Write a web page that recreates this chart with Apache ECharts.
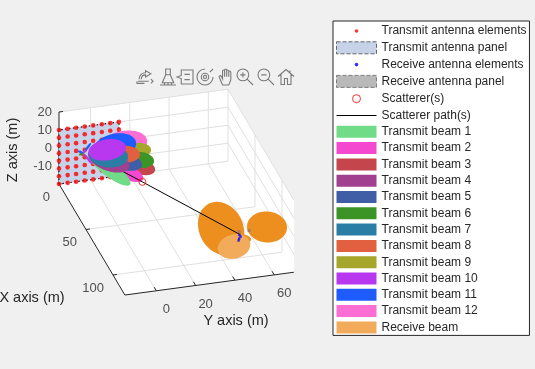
<!DOCTYPE html>
<html><head><meta charset="utf-8">
<script src="https://cdn.jsdelivr.net/npm/echarts@6/dist/echarts.min.js"></script>
<style>html,body{margin:0;padding:0;background:#f0f0f0}#c{width:535px;height:369px}</style>
</head><body><div id="c"></div>
<script>
// ---- axis limits and ticks (metres)
const xLim = [0, 122];
const yLim = [-16, 70];
const zLim = [-20, 20];
const xTicks = [0, 50, 100];
const yTicks = [0, 20, 40, 60];
const zTicks = [-10, 0, 10, 20];

// ---- transmit panel (on plane X = 0)
const txElemY = [-16, -11.6, -7.3, -2.9, 1.4, 5.8, 10.1, 14.5];
const txElemZ = [-20, -15.7, -11.4, -7.1, -2.9, 1.4, 5.7, 10];
const txCentre = [0, -1, -5];

// ---- transmit beams, index 0 = beam 1
const beamNames = ['Transmit beam 1','Transmit beam 2','Transmit beam 3','Transmit beam 4','Transmit beam 5','Transmit beam 6','Transmit beam 7','Transmit beam 8','Transmit beam 9','Transmit beam 10','Transmit beam 11','Transmit beam 12'];
const beamColors = ['#70dc88','#f548d0','#c5454d','#a0408e','#405ea6','#3d9426','#2a7ea6','#e25f40','#a6a62a','#b838f0','#1f5cff','#fd6ed5'];
const beamTipX = 10;
const beamTipY = [17.4, 24, 30.1, 16.9, 23.5, 29.6, 16.4, 22.5, 28.1, 15.3, 20.4, 26];
const beamTipZ = [-20.2, -18.4, -14.3, -10.7, -10.6, -9.3, -5.1, -4.3, -2.4, 1.2, 3.2, 3.5];
const beamWidth = [7.5, 8, 7.5, 10.5, 8.5, 8, 12, 8.5, 7.5, 10.5, 13, 14];
const beamStartFrac = [0, 0.25, 0.6, 0, 0.35, 0.6, 0, 0.4, 0.6, 0, 0.1, 0.15];
const drawOrder = [11, 8, 2, 5, 10, 1, 0, 4, 7];       // behind the path
const drawOrderFront = [3, 6, 9];                       // in front of the path
// side lobes: beam index, tip Y, tip Z
const sideBeam = [10, 5, 2, 9, 10, 9];
const sideTipY = [-6.3, -5.8, -4.3, -2.3, 0.3, 0.8];
const sideTipZ = [-3.1, -5.4, -6.2, -3.1, 0.4, -11.4];

// ---- receiver
const rxX = 83;
const rxElemY = [53.6, 52.9, 52.6, 53.0];
const rxElemZ = [-17.5, -18.5, -19.5, -16.5];
const rxPanelY = [52.8, 57.9];
const rxPanelZ = [-14.6, -14.8];
const rxLobeStartY = [49.8, 56.9, 53.3, 53.3, 42.1];
const rxLobeStartZ = [-26.3, -11.8, -16.3, -16.3, -23.6];
const rxLobeTipY = [37.6, 77.2, 54.8, 58.9, 58.4];
const rxLobeTipZ = [3.2, -16.5, -23.8, -20.4, -21.5];
const rxLobeWidth = [22, 15.5, 2.6, 2.6, 12];

// ---- scatterer and path
const scattererPos = [[30, 18.2, -8.7]];
const pathX = [0, 30, 83];
const pathY = [-1, 18.2, 53.3];
const pathZ = [-5, -8.7, -16.3];

// ---- legend
const legendNames = ['Transmit antenna elements','Transmit antenna panel','Receive antenna elements','Receive antenna panel','Scatterer(s)','Scatterer path(s)'].concat(beamNames, ['Receive beam']);

// ---- projection of world metres onto the page's hidden value axes
function proj(X, Y, Z) {
  return [59 + 0.54 * X + 1.965 * (Y - yLim[0]),
          184 + 0.91 * X - 0.265 * (Y - yLim[0]) - 1.8 * (Z - zLim[0])];
}
const F = 'Liberation Sans';
const textCol = '#262626';

function segSeries(segs, color, width, z) {
  return {
    type: 'custom', coordinateSystem: 'cartesian2d', silent: true, z: z, clip: false,
    data: segs.map(s => [s[0][0], s[0][1], s[1][0], s[1][1]]),
    renderItem: (p, api) => {
      const a = api.coord([api.value(0), api.value(1)]), b = api.coord([api.value(2), api.value(3)]);
      return {type: 'line', shape: {x1: a[0], y1: a[1], x2: b[0], y2: b[1]}, style: {stroke: color, lineWidth: width}};
    }
  };
}
function polySeries(name, polys, style, z) {
  return {
    name, type: 'custom', coordinateSystem: 'cartesian2d', silent: true, z, clip: false,
    data: polys.map(p => p.flat()),
    renderItem: (p, api) => {
      const pts = [];
      for (let i = 0; i < polys[p.dataIndex].length; i++) pts.push(api.coord([api.value(2 * i), api.value(2 * i + 1)]));
      return {type: 'polygon', shape: {points: pts}, style};
    }
  };
}
// a lobe: start point, tip, maximum full width (metres), taper: 1 = plain ellipse, lower = narrower start
function lobeSeries(name, lobes, color, z) {
  return {
    name, type: 'custom', coordinateSystem: 'cartesian2d', silent: true, z, clip: false,
    data: lobes,
    renderItem: (p, api) => {
      const a = api.coord([api.value(0), api.value(1)]), b = api.coord([api.value(2), api.value(3)]);
      const w = api.value(4) * 2, k = api.value(5);
      const dx = b[0] - a[0], dy = b[1] - a[1], L = Math.hypot(dx, dy), nx = -dy / L, ny = dx / L;
      const raw = [];
      let peak = 0;
      for (let i = 0; i <= 48; i++) {
        const t = Math.PI * i / 48, s = (1 - Math.cos(t)) / 2;
        const h = Math.sin(t) * (k + (1 - k) * s);
        raw.push([s, h]);
        peak = Math.max(peak, h);
      }
      const left = [], right = [];
      raw.forEach(r => {
        const h = r[1] / peak * w / 2;
        left.push([a[0] + dx * r[0] + nx * h, a[1] + dy * r[0] + ny * h]);
        right.unshift([a[0] + dx * r[0] - nx * h, a[1] + dy * r[0] - ny * h]);
      });
      return {type: 'polygon', shape: {points: left.concat(right)}, style: {fill: color}};
    }
  };
}
function labelSeries(items, align, offset, rotate) {
  return {
    type: 'scatter', silent: true, symbolSize: 0, z: 20, clip: false,
    data: items.map(t => [t[0][0], t[0][1], String(t[1])]),
    label: {show: true, position: 'inside', offset, align, verticalAlign: 'middle', rotate: rotate || 0,
      fontFamily: F, fontSize: 13, color: textCol, formatter: p => p.data[2]}
  };
}

// ---- axes cage
const grid = [];
const P = proj;
xTicks.forEach(x => {
  grid.push([P(x, yLim[0], zLim[0]), P(x, yLim[1], zLim[0])]);
  grid.push([P(x, yLim[1], zLim[0]), P(x, yLim[1], zLim[1])]);
});
yTicks.forEach(y => {
  grid.push([P(xLim[0], y, zLim[0]), P(xLim[1], y, zLim[0])]);
  grid.push([P(xLim[0], y, zLim[0]), P(xLim[0], y, zLim[1])]);
});
zTicks.forEach(z => {
  grid.push([P(xLim[0], yLim[0], z), P(xLim[0], yLim[1], z)]);
  grid.push([P(xLim[0], yLim[1], z), P(xLim[1], yLim[1], z)]);
});
const axes = [
  [P(xLim[0], yLim[0], zLim[0]), P(xLim[1], yLim[0], zLim[0])],
  [P(xLim[1], yLim[0], zLim[0]), P(xLim[1], yLim[1], zLim[0])],
  [P(xLim[0], yLim[0], zLim[0]), P(xLim[0], yLim[0], zLim[1])]
];
xTicks.forEach(x => axes.push([P(x, yLim[0], zLim[0]), P(x, yLim[0] + 2, zLim[0])]));
yTicks.forEach(y => axes.push([P(xLim[1], y, zLim[0]), P(xLim[1] - 4, y, zLim[0])]));
zTicks.forEach(z => axes.push([P(xLim[0], yLim[0], z), P(xLim[0], yLim[0] + 2, z)]));
const hull = [P(0, yLim[0], zLim[1]), P(0, yLim[1], zLim[1]), P(xLim[1], yLim[1], zLim[1]), P(xLim[1], yLim[1], zLim[0]), P(xLim[1], yLim[0], zLim[0]), P(0, yLim[0], zLim[0])];

// ---- tx panel, elements
const panelYmin = txElemY[0], panelYmax = txElemY[txElemY.length - 1], panelZmin = txElemZ[0], panelZmax = txElemZ[txElemZ.length - 1];
const txPanel = [P(0, panelYmin, panelZmin), P(0, panelYmin, panelZmax), P(0, panelYmax, panelZmax), P(0, panelYmax, panelZmin)];
const txPts = [];
txElemY.forEach(y => txElemZ.forEach(z => txPts.push(P(0, y, z))));

// ---- lobes
const start = P(txCentre[0], txCentre[1], txCentre[2]);
const lobesOf = b => {
  const tip = P(beamTipX, beamTipY[b], beamTipZ[b]), f = beamStartFrac[b];
  return [[start[0] + (tip[0] - start[0]) * f, start[1] + (tip[1] - start[1]) * f, tip[0], tip[1], beamWidth[b], 1]];
};
const sideOf = b => sideBeam.map((s, i) => s === b ? [start[0] - 5, start[1], ...P(0, sideTipY[i], sideTipZ[i]), 1.2, 0.6] : null).filter(Boolean);

const series = [];
series.push(polySeries('__hull', [hull], {fill: '#ffffff'}, 1));
series.push(segSeries(grid, '#e0e0e0', 1, 2));
series.push(segSeries(axes, '#262626', 1, 3));
series.push(polySeries('Transmit antenna panel', [txPanel], {fill: '#c5d2e8', stroke: '#111', lineWidth: 1.2, lineDash: [1.5, 2.5]}, 4));
series.push({name: 'Transmit antenna elements', type: 'scatter', symbol: 'circle', symbolSize: 4.6, silent: true, z: 5, clip: false, itemStyle: {color: '#ff0000'}, data: txPts});
const zBase = 6;
drawOrder.forEach((b, i) => series.push(lobeSeries(beamNames[b], lobesOf(b).concat(sideOf(b)), beamColors[b], zBase + i * 0.01)));
series.push({name: 'Scatterer path(s)', type: 'line', showSymbol: false, silent: true, z: 7, clip: false, lineStyle: {color: '#000', width: 1}, data: pathX.map((x, i) => P(x, pathY[i], pathZ[i]))});
series.push({name: 'Scatterer(s)', type: 'scatter', symbol: 'circle', symbolSize: 7, silent: true, z: 7.5, clip: false, itemStyle: {color: 'transparent', borderColor: '#ff0000', borderWidth: 1}, data: scattererPos.map(p => P(p[0], p[1], p[2]))});
drawOrderFront.forEach((b, i) => series.push(lobeSeries(beamNames[b], lobesOf(b).concat(sideOf(b)), beamColors[b], 8 + i * 0.01)));
const rxMain = [0, 1, 2, 3].map(i => [...P(rxX, rxLobeStartY[i], rxLobeStartZ[i]), ...P(rxX, rxLobeTipY[i], rxLobeTipZ[i]), rxLobeWidth[i], i < 2 ? 1 : 0.6]);
series.push(lobeSeries('Receive beam', rxMain, '#ec8f1f', 6.5));
series.push(lobeSeries('Receive beam', [[...P(rxX, rxLobeStartY[4], rxLobeStartZ[4]), ...P(rxX, rxLobeTipY[4], rxLobeTipZ[4]), rxLobeWidth[4], 1]], '#f1ab5a', 9.1));
series.push({name: 'Receive antenna panel', type: 'scatter', symbol: 'rect', symbolSize: 3, silent: true, z: 10, clip: false, itemStyle: {color: '#a8716c'}, data: rxPanelY.map((y, i) => P(rxX, y, rxPanelZ[i]))});
series.push({name: 'Receive antenna elements', type: 'scatter', symbol: 'rect', symbolSize: 2.4, silent: true, z: 11, clip: false, itemStyle: {color: '#0000ff'}, data: rxElemY.map((y, i) => P(rxX, y, rxElemZ[i]))});
series.push(labelSeries(zTicks.map(z => [P(0, yLim[0], z), z]), 'right', [-7, 0]));
series.push(labelSeries(xTicks.map(x => [P(x, yLim[0], zLim[0]), x]), 'right', [-9, 13]));
series.push(labelSeries(yTicks.map(y => [P(xLim[1], y, zLim[0]), y]), 'center', [10, 18.5]));

// ---- legend entries
const dot = r => `path://M0 0M40 12M${20 + r} 6A${r} ${r} 0 1 1 ${20 - r} 6A${r} ${r} 0 1 1 ${20 + r} 6Z`;
const swatch = 'path://M0 0H40V12H0Z';
const legendData = [
  {name: legendNames[0], icon: dot(1.8), itemStyle: {color: '#ff0000'}},
  {name: legendNames[1], icon: swatch, itemStyle: {color: '#c5d2e8', borderColor: '#666', borderWidth: 1, borderType: 'dashed'}},
  {name: legendNames[2], icon: dot(1.8), itemStyle: {color: '#0000ff'}},
  {name: legendNames[3], icon: swatch, itemStyle: {color: '#a8a8a8', borderColor: '#666', borderWidth: 1, borderType: 'dashed'}},
  {name: legendNames[4], icon: dot(4), itemStyle: {color: 'transparent', borderColor: '#ff0000', borderWidth: 1}},
  {name: legendNames[5], icon: 'path://M0 0M40 12M0 5.5H40V6.5H0Z', itemStyle: {color: '#000000'}}
].concat(beamNames.map((n, i) => ({name: n, icon: swatch, itemStyle: {color: beamColors[i]}})),
  [{name: 'Receive beam', icon: swatch, itemStyle: {color: '#f1ab5a'}}]);

// ---- toolbar icons (page furniture)
const iconPaths = ['M3 10 C3 6 6 4 9 4 V2 L14 5 L9 8 V6 C7 6 5 7 5 10 M2 12 H12 M14 10 L16 12 L14 14 M1 12 V14 H8',
  'M6 1 H10 V6 H6 Z M6 6 L3 13 H13 L10 6 M1 15 H15 M5 13 V15 M8 13 V15 M11 13 V15',
  'M5 2 H16 V15 H5 V10 L1 8.5 L5 7 Z M8 6 H13 M8 11 H13',
  'M8.5 1 A7.5 7.5 0 1 0 16 8.5 M16 1 L13 4 M12 8.5 A3.5 3.5 0 1 1 5 8.5 A3.5 3.5 0 1 1 12 8.5 M10 8.5 A1.5 1.5 0 1 1 7 8.5 A1.5 1.5 0 1 1 10 8.5',
  'M5 16 L2 9 C1 7 3 6 4 8 L5 10 V3 C5 1 7 1 7 3 V8 V2 C7 0 9 0 9 2 V8 V2.5 C9 1 11 1 11 3 V8 V4 C11 2 13 2 13 4 V11 L11 16 Z',
  'M11 6.5 A5.5 5.5 0 1 1 0 6.5 A5.5 5.5 0 1 1 11 6.5 M9.5 10.5 L15 16 M3 6.5 H8 M5.5 4 V9',
  'M11 6.5 A5.5 5.5 0 1 1 0 6.5 A5.5 5.5 0 1 1 11 6.5 M9.5 10.5 L15 16 M3 6.5 H8',
  'M0 8 L8 1 L16 8 M3 6 V16 H6.5 V10 H9.5 V16 H13 V6 M12 2 V4'];
const iconCentreX = [145, 168, 185, 205, 225, 245, 266, 286];
const iconCentreY = 77;
series.push({
  type: 'custom', coordinateSystem: 'cartesian2d', silent: true, z: 30, clip: false,
  data: iconCentreX.map(x => [x, iconCentreY]),
  renderItem: (p, api) => {
    const c = api.coord([api.value(0), api.value(1)]);
    return {type: 'path', shape: {pathData: iconPaths[p.dataIndex], x: c[0] - 8, y: c[1] - 8, width: 16, height: 16, layout: 'center'},
      style: {fill: 'none', stroke: '#7a7a7a', lineWidth: 1.1}};
  }
});
const axisTitle = (t, x, y, rot) => ({type: 'text', x, y, rotation: rot || 0, silent: true, z: 30,
  style: {text: t, fontFamily: F, fontSize: 14.5, fill: textCol, align: 'center', verticalAlign: 'middle'}});
const graphic = [axisTitle('Y axis (m)', 236, 321), axisTitle('X axis (m)', 32, 298), axisTitle('Z axis (m)', 13, 150, Math.PI / 2)];

const chart = echarts.init(document.getElementById('c'), null, {renderer: 'canvas', width: 535, height: 369});
chart.setOption({
  animation: false,
  backgroundColor: '#f0f0f0',
  grid: {left: 0, top: 0, right: 0, bottom: 0, containLabel: false},
  xAxis: {type: 'value', min: 0, max: 535, show: false},
  yAxis: {type: 'value', min: 0, max: 369, inverse: true, show: false},
  tooltip: {show: false},
  legend: {
    left: 333, top: 21, orient: 'vertical', padding: [4, 3, 2, 3], itemWidth: 40, itemHeight: 12, itemGap: 4.3,
    backgroundColor: '#ffffff', borderColor: '#262626', borderWidth: 1, selectedMode: false,
    textStyle: {fontFamily: F, fontSize: 12, color: textCol}, data: legendData, z: 40
  },
  graphic,
  series
});
</script></body></html>
